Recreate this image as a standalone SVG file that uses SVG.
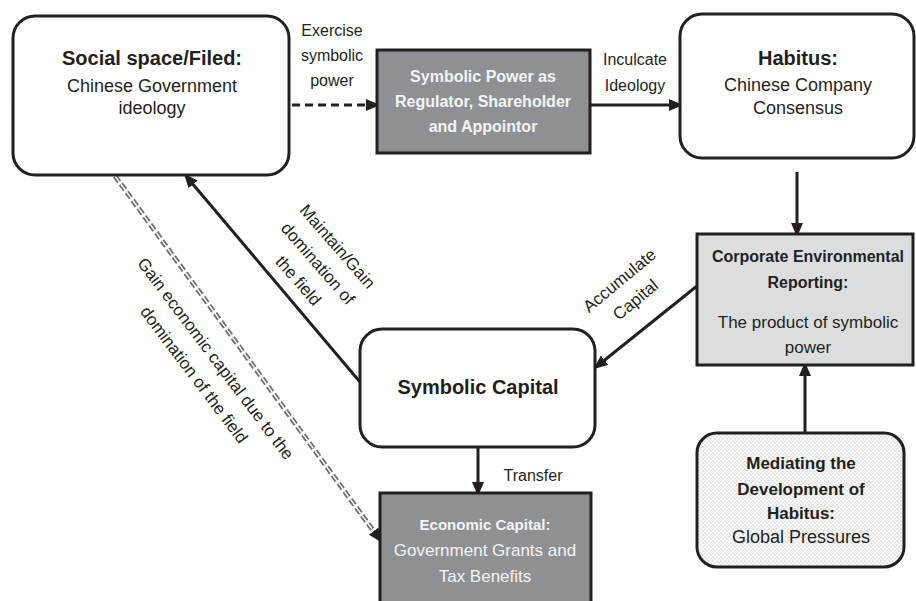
<svg xmlns="http://www.w3.org/2000/svg" width="916" height="601" viewBox="0 0 916 601">
<defs>
<style>
.box{stroke:#231f20;stroke-width:3}
.white{fill:#fff}
.dark{fill:#8f9093}
.light{fill:#dcdddf}
.t{font-family:"Liberation Sans",Arial,sans-serif;fill:#231f20;text-anchor:middle}
.b{font-weight:bold}
.w{fill:#f4f4f4}
.con{stroke:#231f20;stroke-width:3;fill:none}
</style>
<marker id="ah" markerUnits="userSpaceOnUse" markerWidth="14" markerHeight="12" viewBox="0 0 14 12" refX="11" refY="6" orient="auto">
<path d="M0,0 L14,6 L0,12 z" fill="#231f20"/>
</marker>
<pattern id="dots" width="4" height="4" patternUnits="userSpaceOnUse">
<rect width="4" height="4" fill="#fafafa"/>
<circle cx="1" cy="1" r="0.7" fill="#c4c4c4"/>
<circle cx="3" cy="3" r="0.7" fill="#c4c4c4"/>
</pattern>
</defs>
<rect width="916" height="601" fill="#fff"/>

<g id="connectors">
<line class="con" x1="292" y1="105" x2="377" y2="105" stroke-dasharray="8 5" marker-end="url(#ah)"/>
<line class="con" x1="590" y1="105" x2="680" y2="105" marker-end="url(#ah)"/>
<line class="con" x1="797" y1="172" x2="797" y2="234" marker-end="url(#ah)"/>
<line class="con" x1="805" y1="433" x2="805" y2="365" marker-end="url(#ah)"/>
<line class="con" x1="697" y1="286" x2="596" y2="367" marker-end="url(#ah)"/>
<line class="con" x1="360" y1="382" x2="186" y2="176" marker-end="url(#ah)"/>
<line class="con" x1="478" y1="447" x2="478" y2="493" marker-end="url(#ah)"/>
<line x1="115" y1="176" x2="380" y2="540" stroke="#6d6e71" stroke-width="5" stroke-dasharray="7 3" marker-end="url(#ah)"/>
<line x1="115" y1="176" x2="372" y2="529" stroke="#ffffff" stroke-width="1.4" stroke-dasharray="7 3"/>
<text class="t" font-size="16"><tspan x="332" y="36">Exercise</tspan><tspan x="332" y="61">symbolic</tspan><tspan x="332" y="86">power</tspan></text>
<text class="t" font-size="16"><tspan x="635" y="65">Inculcate</tspan><tspan x="635" y="91">Ideology</tspan></text>
<text class="t" font-size="16" x="533" y="481">Transfer</text>
<g transform="translate(337,247) rotate(49)">
<text class="t" font-size="17"><tspan x="0" y="5">Maintain/Gain</tspan><tspan x="0" y="31">domination of</tspan><tspan x="0" y="57">the field</tspan></text>
</g>
<g transform="translate(215,359) rotate(53)">
<text class="t" font-size="17"><tspan x="0" y="5">Gain economic capital due to the</tspan><tspan x="0" y="32">domination of the field</tspan></text>
</g>
<g transform="translate(620,281) rotate(-39.6)">
<text class="t" font-size="17"><tspan x="0" y="5">Accumulate</tspan><tspan x="0" y="30">Capital</tspan></text>
</g>
</g>

<g id="social">
<rect class="box white" x="13" y="16" width="276" height="159" rx="22"/>
<text class="t b" font-size="20" x="152" y="65">Social space/Filed:</text>
<text class="t" font-size="18"><tspan x="152" y="92">Chinese Government</tspan><tspan x="152" y="114">ideology</tspan></text>
</g>

<g id="symbolic-power">
<rect class="box dark" x="377" y="50" width="213" height="103"/>
<text class="t b w" font-size="16"><tspan x="483" y="82">Symbolic Power as</tspan><tspan x="483" y="107">Regulator, Shareholder</tspan><tspan x="483" y="132">and Appointor</tspan></text>
</g>

<g id="habitus">
<rect class="box white" x="680" y="14" width="234" height="144" rx="22"/>
<text class="t b" font-size="20" x="798" y="65">Habitus:</text>
<text class="t" font-size="18"><tspan x="798" y="91">Chinese Company</tspan><tspan x="798" y="114">Consensus</tspan></text>
</g>

<g id="cer">
<rect class="box light" x="697" y="234" width="216" height="131"/>
<text class="t b" font-size="16"><tspan x="808" y="262">Corporate Environmental</tspan><tspan x="808" y="288">Reporting:</tspan></text>
<text class="t" font-size="17"><tspan x="808" y="328">The product of symbolic</tspan><tspan x="808" y="353">power</tspan></text>
</g>

<g id="symbolic-capital">
<rect class="box white" x="360" y="329" width="235" height="118" rx="22"/>
<text class="t b" font-size="20" x="478" y="394">Symbolic Capital</text>
</g>

<g id="economic">
<rect class="box dark" x="380" y="493" width="211" height="115"/>
<text class="t b w" font-size="15" x="485" y="530">Economic Capital:</text>
<text class="t w" font-size="17"><tspan x="485" y="556">Government Grants and</tspan><tspan x="485" y="582">Tax Benefits</tspan></text>
</g>

<g id="mediating">
<rect class="box" fill="url(#dots)" x="697" y="433" width="207" height="134" rx="20"/>
<text class="t b" font-size="17"><tspan x="801" y="469">Mediating the</tspan><tspan x="801" y="495">Development of</tspan><tspan x="801" y="519">Habitus:</tspan></text>
<text class="t" font-size="18" x="801" y="543">Global Pressures</text>
</g>
</svg>
